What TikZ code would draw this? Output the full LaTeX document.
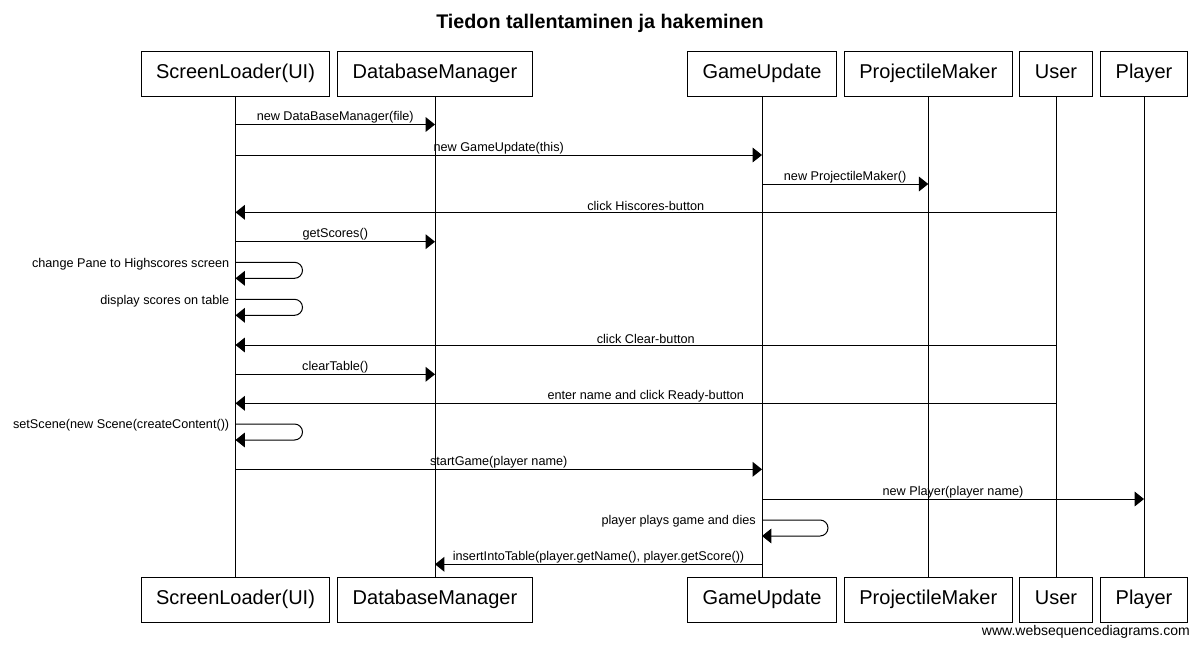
\documentclass[tikz,border=0pt]{standalone}
\usepackage{fontspec}
\setmainfont{Liberation Sans}
\usepackage{xcolor}
\usetikzlibrary{arrows.meta}
\definecolor{seq_line}{RGB}{0, 0, 0}
\tikzset{
  partbox/.style={draw=seq_line, line width=0.75pt, minimum height=33.75pt, inner xsep=11.25pt, text height=11pt, text depth=3pt, font=\fontsize{15}{18}\selectfont},
  lifeline/.style={draw=seq_line, line width=0.75pt},
  msg/.style={draw=seq_line, line width=0.75pt, -{Triangle[length=7pt, width=11pt]}},
  selfmsg/.style={msg, rounded corners=6pt},
  msglbl/.style={font=\fontsize{9.5}{11}\selectfont, inner sep=1.5pt},
  msgabove/.style={msglbl, above, inner ysep=0.6pt},
}

\begin{document}
\begin{tikzpicture}[x=0.75pt, y=-0.75pt]
    \useasboundingbox (0,0) rectangle (1200,647);
    \node[font=\fontsize{14.8}{18}\selectfont\bfseries] (title) at (600,23) {Tiedon tallentaminen ja hakeminen};

    % participants, top row
    \node[partbox] (slT) at (235.5, 73.5) {ScreenLoader(UI)};
    \node[partbox] (dbT) at (435,   73.5) {DatabaseManager};
    \node[partbox] (guT) at (762,   73.5) {GameUpdate};
    \node[partbox] (pmT) at (928.3, 73.5) {ProjectileMaker};
    \node[partbox] (usT) at (1056,  73.5) {User};
    \node[partbox] (plT) at (1144,  73.5) {Player};

    % participants, bottom row
    \node[partbox] (slB) at (235.5, 599.5) {ScreenLoader(UI)};
    \node[partbox] (dbB) at (435,   599.5) {DatabaseManager};
    \node[partbox] (guB) at (762,   599.5) {GameUpdate};
    \node[partbox] (pmB) at (928.3, 599.5) {ProjectileMaker};
    \node[partbox] (usB) at (1056,  599.5) {User};
    \node[partbox] (plB) at (1144,  599.5) {Player};

    % lifelines
    \draw[lifeline] (slT) -- (slB);
    \draw[lifeline] (dbT) -- (dbB);
    \draw[lifeline] (guT) -- (guB);
    \draw[lifeline] (pmT) -- (pmB);
    \draw[lifeline] (usT) -- (usB);
    \draw[lifeline] (plT) -- (plB);

    % messages
    \draw[msg] (slT |- 0,124.5) -- node[msgabove] (m1) {new DataBaseManager(file)} (dbT |- 0,124.5);
    \draw[msg] (slT |- 0,155)   -- node[msgabove] (m2) {new GameUpdate(this)} (guT |- 0,155);
    \draw[msg] (guT |- 0,184)   -- node[msgabove] (m3) {new ProjectileMaker()} (pmT |- 0,184);
    \draw[msg] (usT |- 0,212.3) -- node[msgabove] (m4) {click Hiscores-button} (slT |- 0,212.3);
    \draw[msg] (slT |- 0,241.7) -- node[msgabove] (m5) {getScores()} (dbT |- 0,241.7);

    \draw[selfmsg] (slT |- 0,262.3) -- ++(67,0) -- ++(0,16) -- ++(-67,0);
    \node[msglbl, anchor=east] (s1) at (231.5,264) {change Pane to Highscores screen};
    \draw[selfmsg] (slT |- 0,299.3) -- ++(67,0) -- ++(0,16) -- ++(-67,0);
    \node[msglbl, anchor=east] (s2) at (231.5,301) {display scores on table};

    \draw[msg] (usT |- 0,345)   -- node[msgabove] (m6) {click Clear-button} (slT |- 0,345);
    \draw[msg] (slT |- 0,374.3) -- node[msgabove] (m7) {clearTable()} (dbT |- 0,374.3);
    \draw[msg] (usT |- 0,403.3) -- node[msgabove] (m8) {enter name and click Ready-button} (slT |- 0,403.3);

    \draw[selfmsg] (slT |- 0,424) -- ++(67,0) -- ++(0,16) -- ++(-67,0);
    \node[msglbl, anchor=east] (s3) at (231.5,425.7) {setScene(new Scene(createContent())};

    \draw[msg] (slT |- 0,469.3) -- node[msgabove] (m9)  {startGame(player name)} (guT |- 0,469.3);
    \draw[msg] (guT |- 0,499)   -- node[msgabove] (m10) {new Player(player name)} (plT |- 0,499);

    \draw[selfmsg] (guT |- 0,520) -- ++(66,0) -- ++(0,16) -- ++(-66,0);
    \node[msglbl, anchor=east] (s4) at (758,521.7) {player plays game and dies};

    \draw[msg] (guT |- 0,564.3) -- node[msgabove] (m11) {insertIntoTable(player.getName(), player.getScore())} (dbT |- 0,564.3);

    \node[font=\fontsize{10.5}{12}\selectfont, anchor=east, inner sep=0pt] (wsd) at (1190,632) {www.websequencediagrams.com};
\end{tikzpicture}
\end{document}
